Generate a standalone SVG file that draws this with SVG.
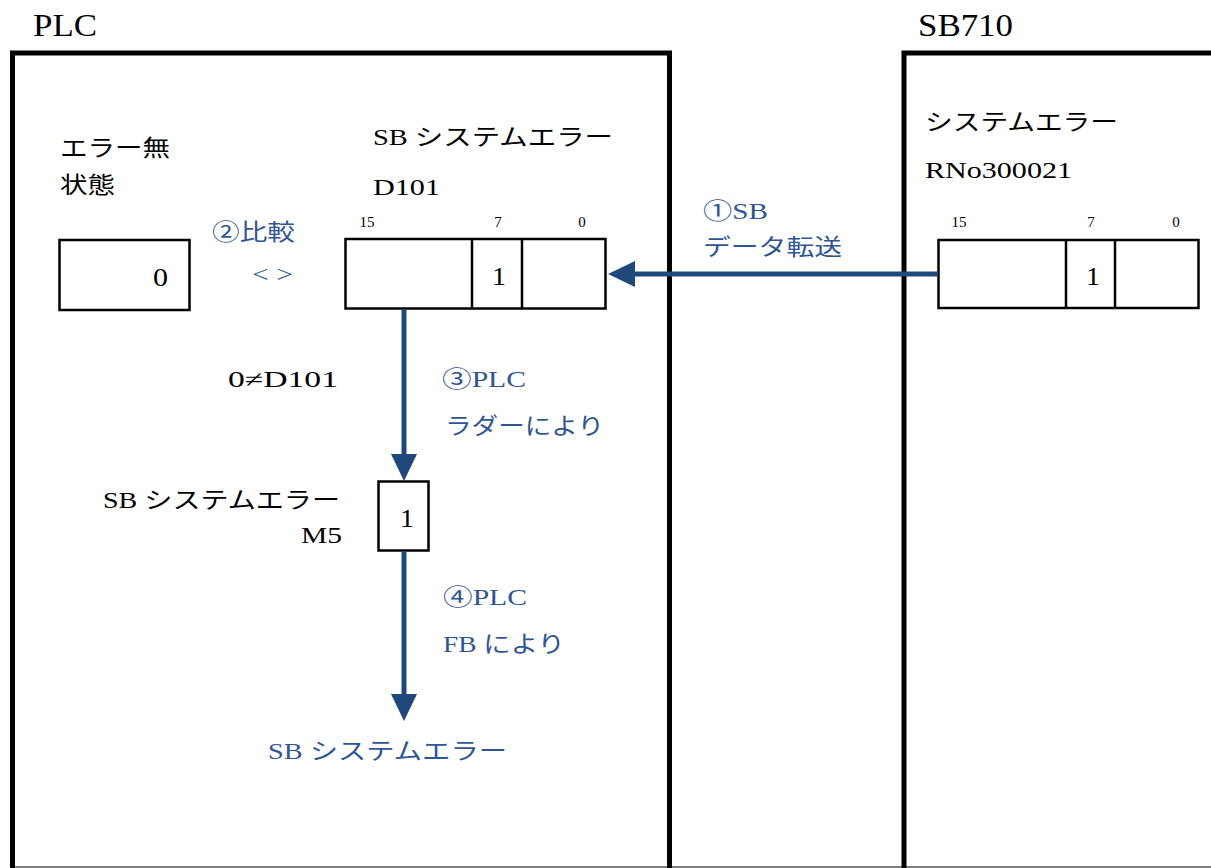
<svg xmlns="http://www.w3.org/2000/svg" width="1211" height="868" viewBox="0 0 1211 868">
<style>
.t{font-family:"Liberation Serif","Noto Sans CJK JP",serif;font-size:23px;fill:#000}
.b{fill:#2F5597}
.h{font-size:32px}
.s{font-size:15px;text-anchor:middle}
.d{font-size:25px}
.frame{fill:none;stroke:#000;stroke-width:5}
.box{fill:#fff;stroke:#000;stroke-width:2.5}
.arr{stroke:#1F497D;stroke-width:5;fill:none;marker-end:url(#ah)}
</style>
<defs>
<marker id="ah" markerUnits="userSpaceOnUse" markerWidth="27" markerHeight="26" viewBox="0 0 27 26" refX="1" refY="13" orient="auto">
<path d="M0,0 L27,13 L0,26 z" fill="#1F497D"/>
</marker>
</defs>
<rect width="1211" height="868" fill="#fff"/>
<line x1="10" y1="867" x2="1211" y2="867" stroke="#808080" stroke-width="2"/>

<g id="plc">
<path class="frame" d="M12.5,868 V53 H669.5 V868"/>
<text class="t h" x="33" y="36" textLength="64" lengthAdjust="spacingAndGlyphs">PLC</text>
</g>

<g id="sb710">
<path class="frame" d="M904,868 V53 H1215"/>
<text class="t h" x="918" y="36" textLength="95" lengthAdjust="spacingAndGlyphs">SB710</text>
<text class="t" x="925" y="130" textLength="193" lengthAdjust="spacingAndGlyphs">システムエラー</text>
<text class="t" x="925" y="178" textLength="147" lengthAdjust="spacingAndGlyphs">RNo300021</text>
</g>

<g id="zero-box">
<text class="t" x="60" y="156" textLength="110" lengthAdjust="spacingAndGlyphs">エラー無</text>
<text class="t" x="60" y="193" textLength="55" lengthAdjust="spacingAndGlyphs">状態</text>
<rect class="box" x="59.5" y="240" width="130" height="70"/>
<text class="t d" x="153" y="286" textLength="15" lengthAdjust="spacingAndGlyphs">0</text>
</g>

<g id="d101-register">
<text class="t" x="373" y="145" textLength="240" lengthAdjust="spacingAndGlyphs">SB システムエラー</text>
<text class="t" x="373" y="195" textLength="67" lengthAdjust="spacingAndGlyphs">D101</text>
<text class="t s" x="367" y="227">15</text>
<text class="t s" x="498" y="227">7</text>
<text class="t s" x="582" y="227">0</text>
<rect class="box" x="345.5" y="239" width="260" height="69.5"/>
<line x1="472" y1="239" x2="472" y2="308.5" stroke="#000" stroke-width="2.5"/>
<line x1="522" y1="239" x2="522" y2="308.5" stroke="#000" stroke-width="2.5"/>
<text class="t d" x="492" y="285" textLength="14" lengthAdjust="spacingAndGlyphs">1</text>
</g>

<g id="sb710-register">
<text class="t s" x="959" y="227">15</text>
<text class="t s" x="1091" y="227">7</text>
<text class="t s" x="1176" y="227">0</text>
<rect class="box" x="938.5" y="240" width="260" height="68"/>
<line x1="1066" y1="240" x2="1066" y2="308" stroke="#000" stroke-width="2.5"/>
<line x1="1115" y1="240" x2="1115" y2="308" stroke="#000" stroke-width="2.5"/>
<text class="t d" x="1086" y="285" textLength="14" lengthAdjust="spacingAndGlyphs">1</text>
</g>

<g id="m5-box">
<text class="t" x="103" y="508" textLength="237" lengthAdjust="spacingAndGlyphs">SB システムエラー</text>
<text class="t" x="301" y="543" textLength="41" lengthAdjust="spacingAndGlyphs">M5</text>
<rect class="box" x="378.5" y="481.5" width="50" height="69"/>
<text class="t d" x="400" y="527" textLength="14" lengthAdjust="spacingAndGlyphs">1</text>
</g>

<g id="result">
<text class="t b" x="268" y="759" textLength="239" lengthAdjust="spacingAndGlyphs">SB システムエラー</text>
</g>

<g id="connectors">
<line class="arr" x1="938" y1="274" x2="634" y2="274"/>
<line class="arr" x1="404" y1="309" x2="404" y2="455"/>
<line class="arr" x1="404" y1="551" x2="404" y2="695"/>
</g>

<g id="connector-labels">
<text class="t b" x="212" y="240" textLength="83" lengthAdjust="spacingAndGlyphs">②比較</text>
<text class="t b" x="252" y="282" textLength="41" lengthAdjust="spacingAndGlyphs">&lt; &gt;</text>
<text class="t b" x="703" y="219" textLength="65" lengthAdjust="spacingAndGlyphs">①SB</text>
<text class="t b" x="703" y="255" textLength="139" lengthAdjust="spacingAndGlyphs">データ転送</text>
<text class="t" x="228" y="387" textLength="110" lengthAdjust="spacingAndGlyphs">0≠D101</text>
<text class="t b" x="442" y="387" textLength="84" lengthAdjust="spacingAndGlyphs">③PLC</text>
<text class="t b" x="445" y="434" textLength="159" lengthAdjust="spacingAndGlyphs">ラダーにより</text>
<text class="t b" x="443" y="605" textLength="84" lengthAdjust="spacingAndGlyphs">④PLC</text>
<text class="t b" x="443" y="652" textLength="122" lengthAdjust="spacingAndGlyphs">FB により</text>
</g>
</svg>
